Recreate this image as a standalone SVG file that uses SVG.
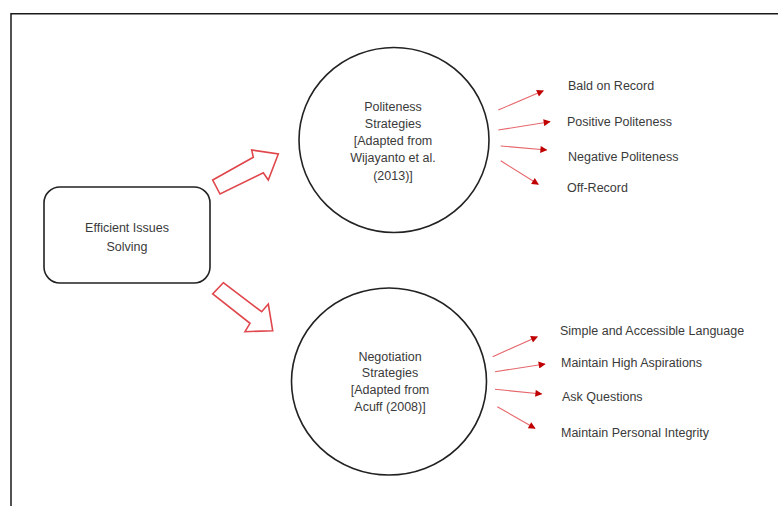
<svg xmlns="http://www.w3.org/2000/svg" width="778" height="506" viewBox="0 0 778 506">
<style>
.t{font-family:"Liberation Sans",Arial,sans-serif;font-size:12.5px;fill:#3a3a3a}
.c{text-anchor:middle}
.node{fill:#fff;stroke:#222;stroke-width:1.6}
.big{fill:#fff;stroke:#e0474c;stroke-width:1.6;stroke-linejoin:miter}
.sm{stroke:#e6676b;stroke-width:1.1;fill:none;marker-end:url(#ah)}
</style>
<defs>
<marker id="ah" viewBox="0 0 10 10" refX="9" refY="5" markerWidth="9" markerHeight="7" markerUnits="userSpaceOnUse" orient="auto">
<path d="M0,0 L10,5 L0,10 z" fill="#c00000"/>
</marker>
</defs>
<rect width="778" height="506" fill="#fff"/>
<path d="M11,506 V13.7 H778" fill="none" stroke="#1a1a1a" stroke-width="1.5"/>
<g id="efficient">
<rect class="node" x="44" y="187" width="166" height="96" rx="16"/>
<text class="t c" x="127" y="232">Efficient Issues</text>
<text class="t c" x="127" y="251">Solving</text>
</g>
<g id="politeness">
<ellipse class="node" cx="394" cy="140" rx="95" ry="92.5"/>
<text class="t c" x="393" y="111">Politeness</text>
<text class="t c" x="393" y="128">Strategies</text>
<text class="t c" x="393" y="145">[Adapted from</text>
<text class="t c" x="393" y="162">Wijayanto et al.</text>
<text class="t c" x="393" y="180">(2013)]</text>
</g>
<g id="negotiation">
<ellipse class="node" cx="389" cy="381.5" rx="97.5" ry="93.5"/>
<text class="t c" x="390" y="361">Negotiation</text>
<text class="t c" x="390" y="377">Strategies</text>
<text class="t c" x="390" y="394">[Adapted from</text>
<text class="t c" x="390" y="411">Acuff (2008)]</text>
</g>
<g id="labels-politeness">
<text class="t" x="568" y="90">Bald on Record</text>
<text class="t" x="567" y="126">Positive Politeness</text>
<text class="t" x="568" y="161">Negative Politeness</text>
<text class="t" x="567" y="192">Off-Record</text>
</g>
<g id="labels-negotiation">
<text class="t" x="560" y="335">Simple and Accessible Language</text>
<text class="t" x="561" y="367">Maintain High Aspirations</text>
<text class="t" x="562" y="401">Ask Questions</text>
<text class="t" x="561" y="437">Maintain Personal Integrity</text>
</g>
<g id="connectors">
<polygon class="big" points="212.7,180 253.3,157.3 251.7,150 278.3,154 268.3,180 263.3,172.7 220,194"/>
<polygon class="big" points="223.3,282.7 261.7,311.7 268.3,304 272.7,330.7 245,331.7 250,323.3 212.7,294"/>
<line class="sm" x1="498.3" y1="110" x2="543.3" y2="90.7"/>
<line class="sm" x1="498.3" y1="130" x2="550" y2="121.7"/>
<line class="sm" x1="500.7" y1="146" x2="546.7" y2="150"/>
<line class="sm" x1="500.7" y1="160.7" x2="538.3" y2="184.3"/>
<line class="sm" x1="492.7" y1="356.7" x2="537.3" y2="336.7"/>
<line class="sm" x1="495" y1="371.7" x2="545" y2="364"/>
<line class="sm" x1="495" y1="389.3" x2="541.7" y2="394"/>
<line class="sm" x1="497.3" y1="406.7" x2="535" y2="428.3"/>
</g>
</svg>
